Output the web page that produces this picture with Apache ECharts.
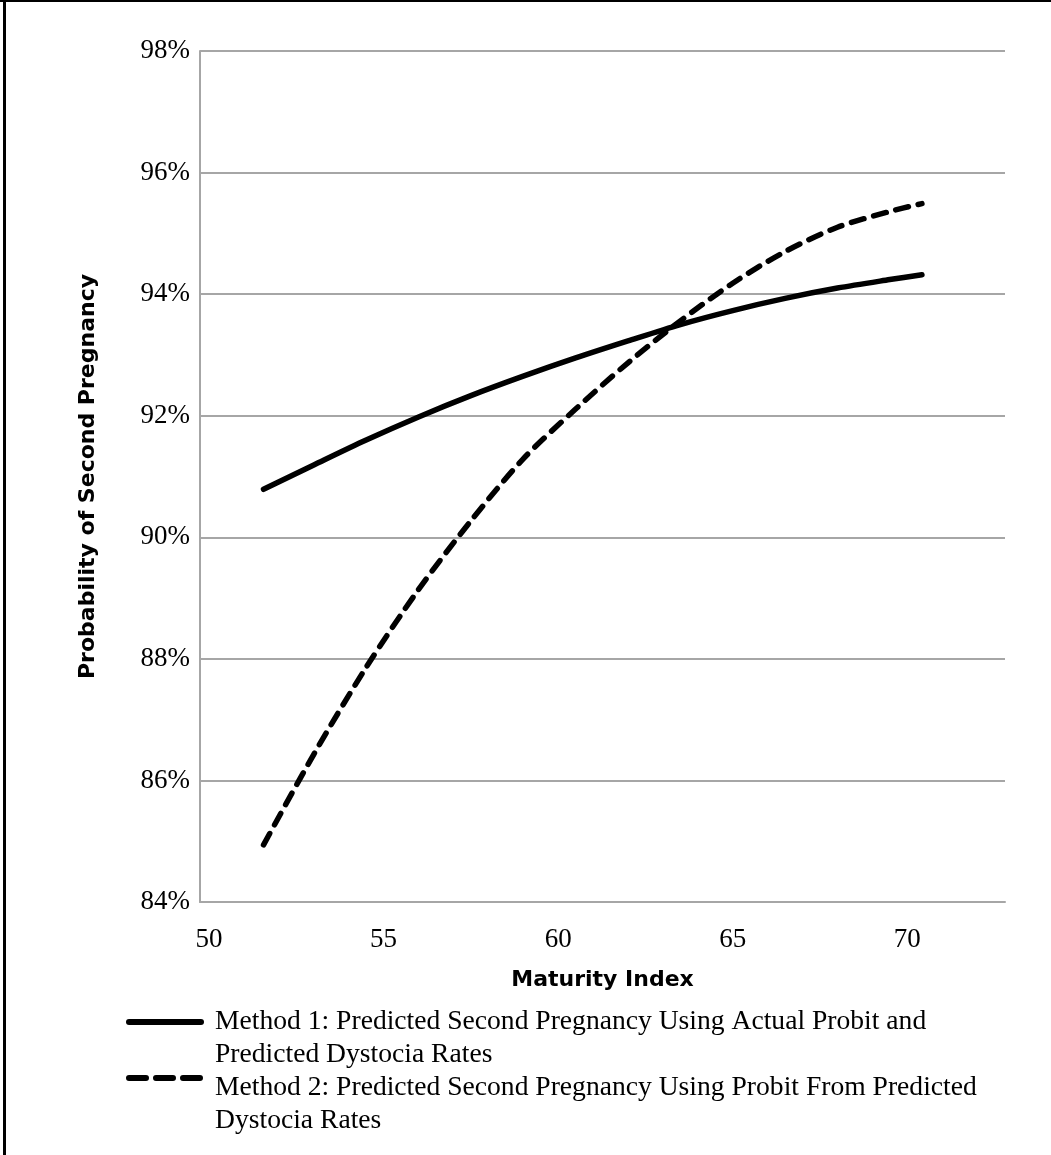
<!DOCTYPE html>
<html>
<head>
<meta charset="utf-8">
<script src="https://cdn.jsdelivr.net/npm/echarts@6/dist/echarts.min.js"></script>
<style>
html,body{margin:0;padding:0;background:#fff;}
#chart{width:1051px;height:1155px;}
</style>
</head>
<body>
<div id="chart"></div>
<script>
// Data
var method1Name = 'Method 1: Predicted Second Pregnancy Using Actual Probit and\nPredicted Dystocia Rates';
var method2Name = 'Method 2: Predicted Second Pregnancy Using Probit From Predicted\nDystocia Rates';
var maturityIndex = [51.56, 53, 54.5, 56, 57.5, 59, 60.5, 62, 63.5, 65, 66.5, 68, 69.5, 70.42];
var method1Y = [90.79, 91.19, 91.60, 91.98, 92.33, 92.65, 92.95, 93.23, 93.50, 93.73, 93.93, 94.10, 94.24, 94.32];
var method2Y = [84.94, 86.43, 87.86, 89.14, 90.27, 91.29, 92.11, 92.87, 93.56, 94.18, 94.70, 95.10, 95.36, 95.49];
var xTickValues = [50, 55, 60, 65, 70];

function pairs(xs, ys) { return xs.map(function (x, i) { return [x, ys[i]]; }); }

var serif = '"Liberation Serif", "Times New Roman", serif';
var sans = '"DejaVu Sans", sans-serif';
var grid = '#a6a6a6';

function legendFmt(name) {
  var lines = name.split('\n');
  return '{gap|\u00a0}\n' + lines.map(function (l) { return '{t|' + l + '}'; }).join('\n');
}
function legendText(gapH) {
  return {
    fontFamily: serif, fontSize: 27.6, color: '#000',
    rich: {
      gap: { fontSize: 10, lineHeight: gapH, fontFamily: serif },
      t: { fontFamily: serif, fontSize: 27.6, color: '#000', lineHeight: 33, padding: [0, 0, 0, 9] }
    }
  };
}

var chart = echarts.init(document.getElementById('chart'), null, { renderer: 'canvas' });
chart.setOption({
  backgroundColor: '#ffffff',
  animation: false,
  grid: { left: 200, right: 46, top: 51, bottom: 253, containLabel: false },
  xAxis: {
    type: 'value', min: 49.74, max: 72.8,
    name: 'Maturity Index', nameLocation: 'middle', nameGap: 67,
    nameTextStyle: { fontFamily: sans, fontWeight: 'bold', fontSize: 22, color: '#000' },
    axisLine: { show: true, lineStyle: { color: grid, width: 2 } },
    axisTick: { show: false },
    splitLine: { show: false },
    axisLabel: { customValues: xTickValues, fontFamily: serif, fontSize: 27, color: '#000', margin: 24 }
  },
  yAxis: {
    type: 'value', min: 84, max: 98, interval: 2,
    name: 'Probability of Second Pregnancy', nameLocation: 'middle', nameGap: 101, nameRotate: 90,
    nameTextStyle: { fontFamily: sans, fontWeight: 'bold', fontSize: 22, color: '#000' },
    axisLine: { show: true, lineStyle: { color: grid, width: 2 } },
    axisTick: { show: false },
    splitLine: { show: true, lineStyle: { color: grid, width: 2 } },
    axisLabel: { fontFamily: serif, fontSize: 27, color: '#000', margin: 10,
      formatter: function (v) { return v + '%'; } }
  },
  legend: [
    {
      data: [method1Name], orient: 'vertical', left: 121, top: 979,
      itemWidth: 72, itemHeight: 8, itemGap: 0,
      formatter: legendFmt, textStyle: legendText(33),
      itemStyle: { color: 'transparent', borderWidth: 0, opacity: 0 },
      lineStyle: { width: 6, color: '#000', cap: 'round' },
      selectedMode: false
    },
    {
      data: [method2Name], orient: 'vertical', left: 121, top: 1035,
      itemWidth: 72, itemHeight: 8, itemGap: 0,
      formatter: legendFmt, textStyle: legendText(53),
      itemStyle: { color: 'transparent', borderWidth: 0, opacity: 0 },
      lineStyle: { width: 6, color: '#000', type: [17, 10], cap: 'round' },
      selectedMode: false
    }
  ],
  series: [
    {
      name: method1Name, type: 'line', data: pairs(maturityIndex, method1Y),
      smooth: 0.3, symbol: 'none', showSymbol: false,
      lineStyle: { color: '#000', width: 5.5, cap: 'round' },
      itemStyle: { color: '#000' }
    },
    {
      name: method2Name, type: 'line', data: pairs(maturityIndex, method2Y),
      smooth: 0.3, symbol: 'none', showSymbol: false,
      lineStyle: { color: '#000', width: 5.5, type: [13, 10], cap: 'round' },
      itemStyle: { color: '#000' }
    }
  ],
  graphic: [
    { type: 'rect', shape: { x: 0, y: 0, width: 1051, height: 2 }, style: { fill: '#000' }, silent: true },
    { type: 'rect', shape: { x: 3, y: 0, width: 3, height: 1155 }, style: { fill: '#000' }, silent: true }
  ]
});
</script>
</body>
</html>
